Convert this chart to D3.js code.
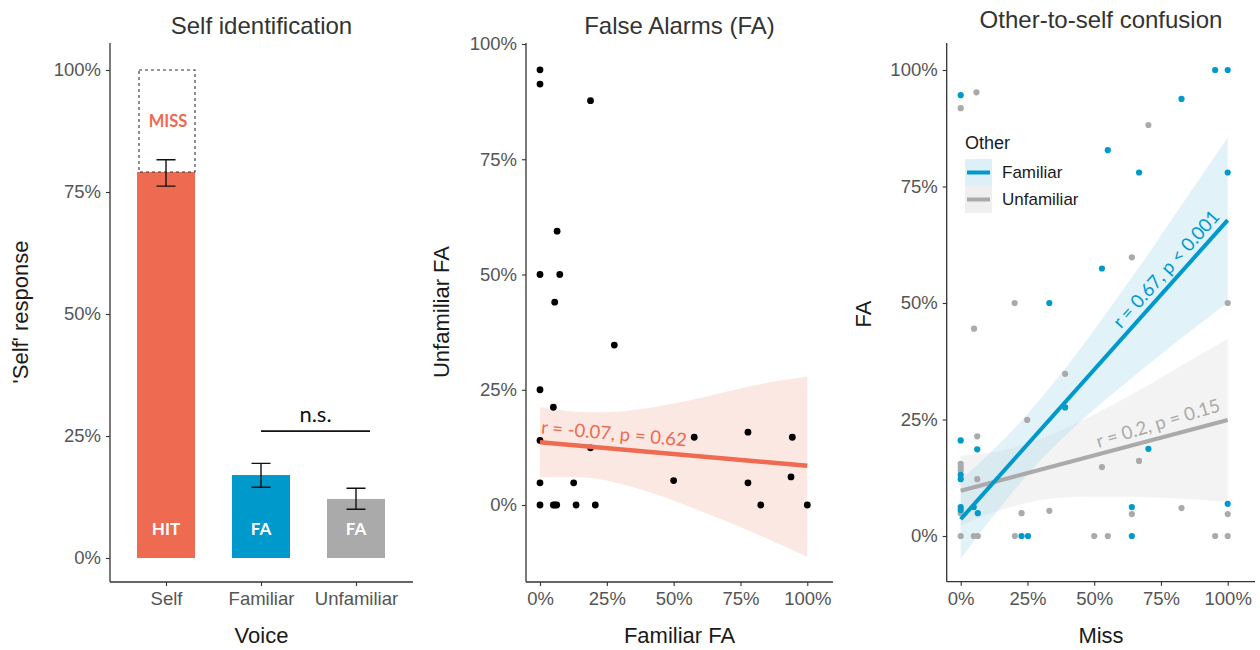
<!DOCTYPE html>
<html><head><meta charset="utf-8">
<script src="https://cdn.jsdelivr.net/npm/d3@7"></script>
<style>body{margin:0;background:#fff}svg{display:block}</style>
</head><body>
<svg id="chart" width="1260" height="650"></svg>
<script>
// ---------------- DATA ----------------
const voiceCategories = ["Self", "Familiar", "Unfamiliar"];
const selfResponse = [0.791, 0.170, 0.121];
const errorLow = [0.762, 0.145, 0.100];
const errorHigh = [0.816, 0.194, 0.143];
const barLabels = ["HIT", "FA", "FA"];
const percentTicks = [0, 0.25, 0.5, 0.75, 1];

// Panel 2: familiar FA (x) vs unfamiliar FA (y)
const faFamiliar = [0, 0, 0.189, 0.064, 0, 0.074, 0.055, 0.278, 0, 0.05, 0, 0.189, 0.577, 0.778, 0.944, 0, 0.126, 0.50, 0.778, 0.939, 0, 0.05, 0.056, 0.0625, 0.135, 0.207, 0.826, 1.0];
const faUnfamiliar = [0.944, 0.913, 0.877, 0.594, 0.50, 0.50, 0.44, 0.347, 0.25, 0.212, 0.14, 0.124, 0.147, 0.158, 0.147, 0.048, 0.048, 0.053, 0.048, 0.061, 0, 0, 0, 0, 0, 0, 0, 0];
const faFitX = [0, 1];
const faFitY = [0.136, 0.085];
const faBandX = [0, 0.1, 0.2, 0.3, 0.4, 0.5, 0.6, 0.7, 0.8, 0.9, 1.0];
const faBandHigh = [0.212, 0.204, 0.201, 0.203, 0.210, 0.220, 0.232, 0.246, 0.259, 0.270, 0.278];
const faBandLow = [0.060, 0.061, 0.058, 0.046, 0.030, 0.010, -0.013, -0.036, -0.060, -0.086, -0.112];
const faLabel = "r = -0.07, p = 0.62";

// Panel 3: miss (x) vs FA (y), by other voice
const familiarMiss = [0, 0.953, 1.0, 0.827, 0.551, 0.668, 1.0, 0.529, 0.332, 0.391, 0, 0.062, 0.703, 0, 0, 0, 0, 0.049, 0.064, 0.641, 1.0, 0.228, 0.252, 0.641];
const familiarFA = [0.946, 1.0, 1.0, 0.938, 0.828, 0.780, 0.780, 0.574, 0.50, 0.276, 0.205, 0.186, 0.187, 0.131, 0.122, 0.062, 0.056, 0.062, 0.049, 0.062, 0.069, 0, 0, 0];
const unfamiliarMiss = [0, 0.059, 0.703, 0.641, 0.202, 1.0, 0.05, 0.391, 0.249, 0.062, 0, 0, 0, 0.529, 0.668, 0.062, 0, 0.228, 0.332, 0.641, 0.827, 1.0, 0, 0.049, 0.064, 0.203, 0.50, 0.551, 0.953, 1.0];
const unfamiliarFA = [0.918, 0.952, 0.882, 0.598, 0.50, 0.50, 0.445, 0.348, 0.249, 0.214, 0.155, 0.148, 0.141, 0.148, 0.161, 0.122, 0.049, 0.049, 0.054, 0.047, 0.060, 0.047, 0, 0, 0, 0, 0, 0, 0, 0];
const bandX = [0, 0.1, 0.2, 0.3, 0.4, 0.5, 0.6, 0.7, 0.8, 0.9, 1.0];
const familiarFit = [0.036, 0.678];
const familiarBandHigh = [0.121, 0.173, 0.230, 0.295, 0.366, 0.442, 0.522, 0.603, 0.687, 0.771, 0.855];
const familiarBandLow = [-0.049, 0.027, 0.098, 0.163, 0.220, 0.272, 0.320, 0.367, 0.413, 0.457, 0.501];
const unfamiliarFit = [0.097, 0.249];
const unfamiliarBandHigh = [0.172, 0.178, 0.190, 0.209, 0.233, 0.261, 0.291, 0.323, 0.357, 0.390, 0.424];
const unfamiliarBandLow = [0.022, 0.046, 0.064, 0.077, 0.083, 0.085, 0.085, 0.083, 0.081, 0.078, 0.074];
const groupNames = ["Familiar", "Unfamiliar"];
const familiarLabel = "r = 0.67, p < 0.001";
const unfamiliarLabel = "r = 0.2, p = 0.15";

// ---------------- STYLE ----------------
const C_CORAL = "#EE6A50", C_BLUE = "#0099CC", C_GRAY = "#AAAAAA";
const SANS = "'Liberation Sans', Arial, sans-serif";
const HUM = "Lato, 'Open Sans', sans-serif";
const pct = d3.format(".0%");

const svg = d3.select("#chart");

function frame(g, xr, yr) {
  g.append("line").attr("x1", xr[0]).attr("x2", xr[0]).attr("y1", yr[0]).attr("y2", yr[1])
    .attr("stroke", "#333").attr("stroke-width", 1.3);
  g.append("line").attr("x1", xr[0]).attr("x2", xr[1]).attr("y1", yr[1]).attr("y2", yr[1])
    .attr("stroke", "#333").attr("stroke-width", 1.3);
}
function styleAxis(sel) {
  sel.select(".domain").remove();
  sel.selectAll(".tick line").attr("stroke", "#333").attr("stroke-width", 1.1);
  sel.selectAll(".tick text").attr("fill", "#555").style("font-family", SANS).style("font-size", "18.5px");
}
function drawAxes(g, x, y, xr, yr, xTicks, xFmt) {
  const ax = d3.axisLeft(y).tickValues(percentTicks).tickFormat(pct).tickSize(4).tickPadding(5);
  g.append("g").attr("transform", `translate(${xr[0]},0)`).call(ax).call(styleAxis);
  const bx = d3.axisBottom(x).tickSize(4).tickPadding(6);
  if (xTicks) bx.tickValues(xTicks);
  if (xFmt) bx.tickFormat(xFmt);
  g.append("g").attr("transform", `translate(0,${yr[1]})`).call(bx).call(styleAxis);
  frame(g, xr, yr);
}
function titles(g, cx, title, titleY, xlab, ylab, ylabX, cy) {
  g.append("text").attr("x", cx).attr("y", titleY).attr("text-anchor", "middle")
    .style("font-family", SANS).style("font-size", "24px").attr("fill", "#333").text(title);
  g.append("text").attr("x", cx).attr("y", 643).attr("text-anchor", "middle")
    .style("font-family", SANS).style("font-size", "22px").attr("fill", "#1a1a1a").text(xlab);
  g.append("text").attr("transform", `translate(${ylabX},${cy}) rotate(-90)`).attr("text-anchor", "middle")
    .style("font-family", SANS).style("font-size", "22px").attr("fill", "#1a1a1a").text(ylab);
}
function angleOf(x, y, x0, y0, x1, y1) {
  return Math.atan2(y(y1) - y(y0), x(x1) - x(x0)) * 180 / Math.PI;
}

// ---------------- PANEL 1 ----------------
{
  const g = svg.append("g");
  const xr = [110, 413], yr = [43, 582];
  const x = d3.scalePoint().domain(voiceCategories).range([166, 356]);
  const y = d3.scaleLinear().domain([0, 1]).range([558, 70]);
  const bw = 58;
  const fills = [C_CORAL, C_BLUE, C_GRAY];

  g.selectAll("rect.bar").data(voiceCategories).join("rect").attr("class", "bar")
    .attr("x", d => x(d) - bw / 2).attr("width", bw)
    .attr("y", (d, i) => y(selfResponse[i])).attr("height", (d, i) => y(0) - y(selfResponse[i]))
    .attr("fill", (d, i) => fills[i]);
  // dashed MISS box
  g.append("rect").attr("x", x("Self") - bw / 2 + 2).attr("width", bw - 2)
    .attr("y", y(1)).attr("height", y(selfResponse[0]) - y(1))
    .attr("fill", "none").attr("stroke", "#333").attr("stroke-width", 1.1).attr("stroke-dasharray", "3,3");
  g.append("text").attr("x", x("Self") + 2).attr("y", y((1 + selfResponse[0]) / 2)).attr("dy", "0.36em")
    .attr("text-anchor", "middle").style("font-family", HUM).style("font-weight", "700").style("font-size", "16.5px")
    .attr("fill", C_CORAL).text("MISS");
  // error bars
  voiceCategories.forEach((c, i) => {
    const cx = x(c);
    g.append("path").attr("d",
      `M${cx - 9.5},${y(errorHigh[i])}H${cx + 9.5}M${cx},${y(errorHigh[i])}V${y(errorLow[i])}M${cx - 9.5},${y(errorLow[i])}H${cx + 9.5}`)
      .attr("stroke", "#111").attr("stroke-width", 1.4).attr("fill", "none");
  });
  g.selectAll("text.blab").data(voiceCategories).join("text").attr("class", "blab")
    .attr("x", d => x(d)).attr("y", y(0.059)).attr("dy", "0.36em").attr("text-anchor", "middle")
    .style("font-family", HUM).style("font-weight", "700").style("font-size", "17px").attr("fill", "#fff")
    .text((d, i) => barLabels[i]);
  // n.s. bracket
  const nsY = y(0.26);
  g.append("line").attr("x1", x("Familiar")).attr("x2", x("Unfamiliar") + 14).attr("y1", nsY).attr("y2", nsY)
    .attr("stroke", "#111").attr("stroke-width", 1.6);
  g.append("text").attr("x", (x("Familiar") + x("Unfamiliar") + 14) / 2).attr("y", nsY - 9).attr("text-anchor", "middle")
    .style("font-family", HUM).style("font-size", "22px").attr("fill", "#111").text("n.s.");

  drawAxes(g, x, y, xr, yr);
  titles(g, 261.5, "Self identification", 34, "Voice", "'Self' response", 28, 312);
}

// ---------------- PANEL 2 ----------------
{
  const g = svg.append("g");
  const xr = [526, 833], yr = [43, 582];
  const x = d3.scaleLinear().domain([0, 1]).range([540, 807.3]);
  const y = d3.scaleLinear().domain([0, 1]).range([505, 44]);
  const area = d3.area().x((d, i) => x(faBandX[i])).y0((d, i) => y(faBandLow[i])).y1((d, i) => y(faBandHigh[i])).curve(d3.curveMonotoneX);
  g.append("path").attr("d", area(faBandX)).attr("fill", "#FCE8E3");
  g.selectAll("circle").data(faFamiliar).join("circle")
    .attr("cx", d => x(d)).attr("cy", (d, i) => y(faUnfamiliar[i])).attr("r", 3.4).attr("fill", "#000");
  g.append("line").attr("x1", x(faFitX[0])).attr("x2", x(faFitX[1])).attr("y1", y(faFitY[0])).attr("y2", y(faFitY[1]))
    .attr("stroke", C_CORAL).attr("stroke-width", 4.5);
  const ang = angleOf(x, y, faFitX[0], faFitY[0], faFitX[1], faFitY[1]);
  g.append("text").attr("transform", `translate(${x(0.277)},${y(0.155)}) rotate(${ang})`).attr("dy", "0.35em")
    .attr("text-anchor", "middle").style("font-family", HUM).style("font-size", "18.5px").attr("fill", C_CORAL).text(faLabel);
  drawAxes(g, x, y, xr, yr, percentTicks, pct);
  titles(g, 679.5, "False Alarms (FA)", 34, "Familiar FA", "Unfamiliar FA", 449, 312);
}

// ---------------- PANEL 3 ----------------
{
  const g = svg.append("g");
  const xr = [946.7, 1255], yr = [43, 581.7];
  const x = d3.scaleLinear().domain([0, 1]).range([960.7, 1227.7]);
  const y = d3.scaleLinear().domain([0, 1]).range([536, 70]);
  const mkArea = (lo, hi) => d3.area().x((d, i) => x(bandX[i])).y0((d, i) => y(lo[i])).y1((d, i) => y(hi[i])).curve(d3.curveMonotoneX)(bandX);
  g.append("path").attr("d", mkArea(unfamiliarBandLow, unfamiliarBandHigh)).attr("fill", "#E0E0E0").attr("opacity", 0.4);
  g.append("path").attr("d", mkArea(familiarBandLow, familiarBandHigh)).attr("fill", "#A8DAEE").attr("opacity", 0.34);

  g.selectAll("circle.u").data(unfamiliarMiss).join("circle").attr("class", "u")
    .attr("cx", d => x(d)).attr("cy", (d, i) => y(unfamiliarFA[i])).attr("r", 3.1).attr("fill", C_GRAY);
  g.selectAll("circle.f").data(familiarMiss).join("circle").attr("class", "f")
    .attr("cx", d => x(d)).attr("cy", (d, i) => y(familiarFA[i])).attr("r", 3.1).attr("fill", C_BLUE);

  g.append("line").attr("x1", x(0)).attr("x2", x(1)).attr("y1", y(unfamiliarFit[0])).attr("y2", y(unfamiliarFit[1]))
    .attr("stroke", C_GRAY).attr("stroke-width", 4);
  g.append("line").attr("x1", x(0)).attr("x2", x(1)).attr("y1", y(familiarFit[0])).attr("y2", y(familiarFit[1]))
    .attr("stroke", C_BLUE).attr("stroke-width", 4);

  const angF = angleOf(x, y, 0, familiarFit[0], 1, familiarFit[1]);
  g.append("text").attr("transform", `translate(${x(0.769)},${y(0.573)}) rotate(${angF})`).attr("dy", "0.35em")
    .attr("text-anchor", "middle").style("font-family", HUM).style("font-size", "18.5px").attr("fill", C_BLUE).text(familiarLabel);
  const angU = angleOf(x, y, 0, unfamiliarFit[0], 1, unfamiliarFit[1]) - 2;
  g.append("text").attr("transform", `translate(${x(0.739)},${y(0.242)}) rotate(${angU})`).attr("dy", "0.35em")
    .attr("text-anchor", "middle").style("font-family", HUM).style("font-size", "18.5px").attr("fill", C_GRAY).text(unfamiliarLabel);

  // legend
  const lg = g.append("g");
  lg.append("text").attr("x", 965).attr("y", 149).style("font-family", SANS).style("font-size", "18px").attr("fill", "#1a1a1a").text("Other");
  const keyFill = ["#DDF0F8", "#EFEFEF"], keyCol = [C_BLUE, C_GRAY];
  groupNames.forEach((n, i) => {
    const ky = 159 + i * 27;
    lg.append("rect").attr("x", 965).attr("y", ky).attr("width", 27).attr("height", 27).attr("fill", keyFill[i]);
    lg.append("line").attr("x1", 967).attr("x2", 990).attr("y1", ky + 13.5).attr("y2", ky + 13.5)
      .attr("stroke", keyCol[i]).attr("stroke-width", 4);
    lg.append("text").attr("x", 1002).attr("y", ky + 13.5).attr("dy", "0.35em")
      .style("font-family", SANS).style("font-size", "17px").attr("fill", "#1a1a1a").text(n);
  });

  drawAxes(g, x, y, xr, yr, percentTicks, pct);
  titles(g, 1101, "Other-to-self confusion", 28, "Miss", "FA", 871, 314);
}
</script>
</body></html>
